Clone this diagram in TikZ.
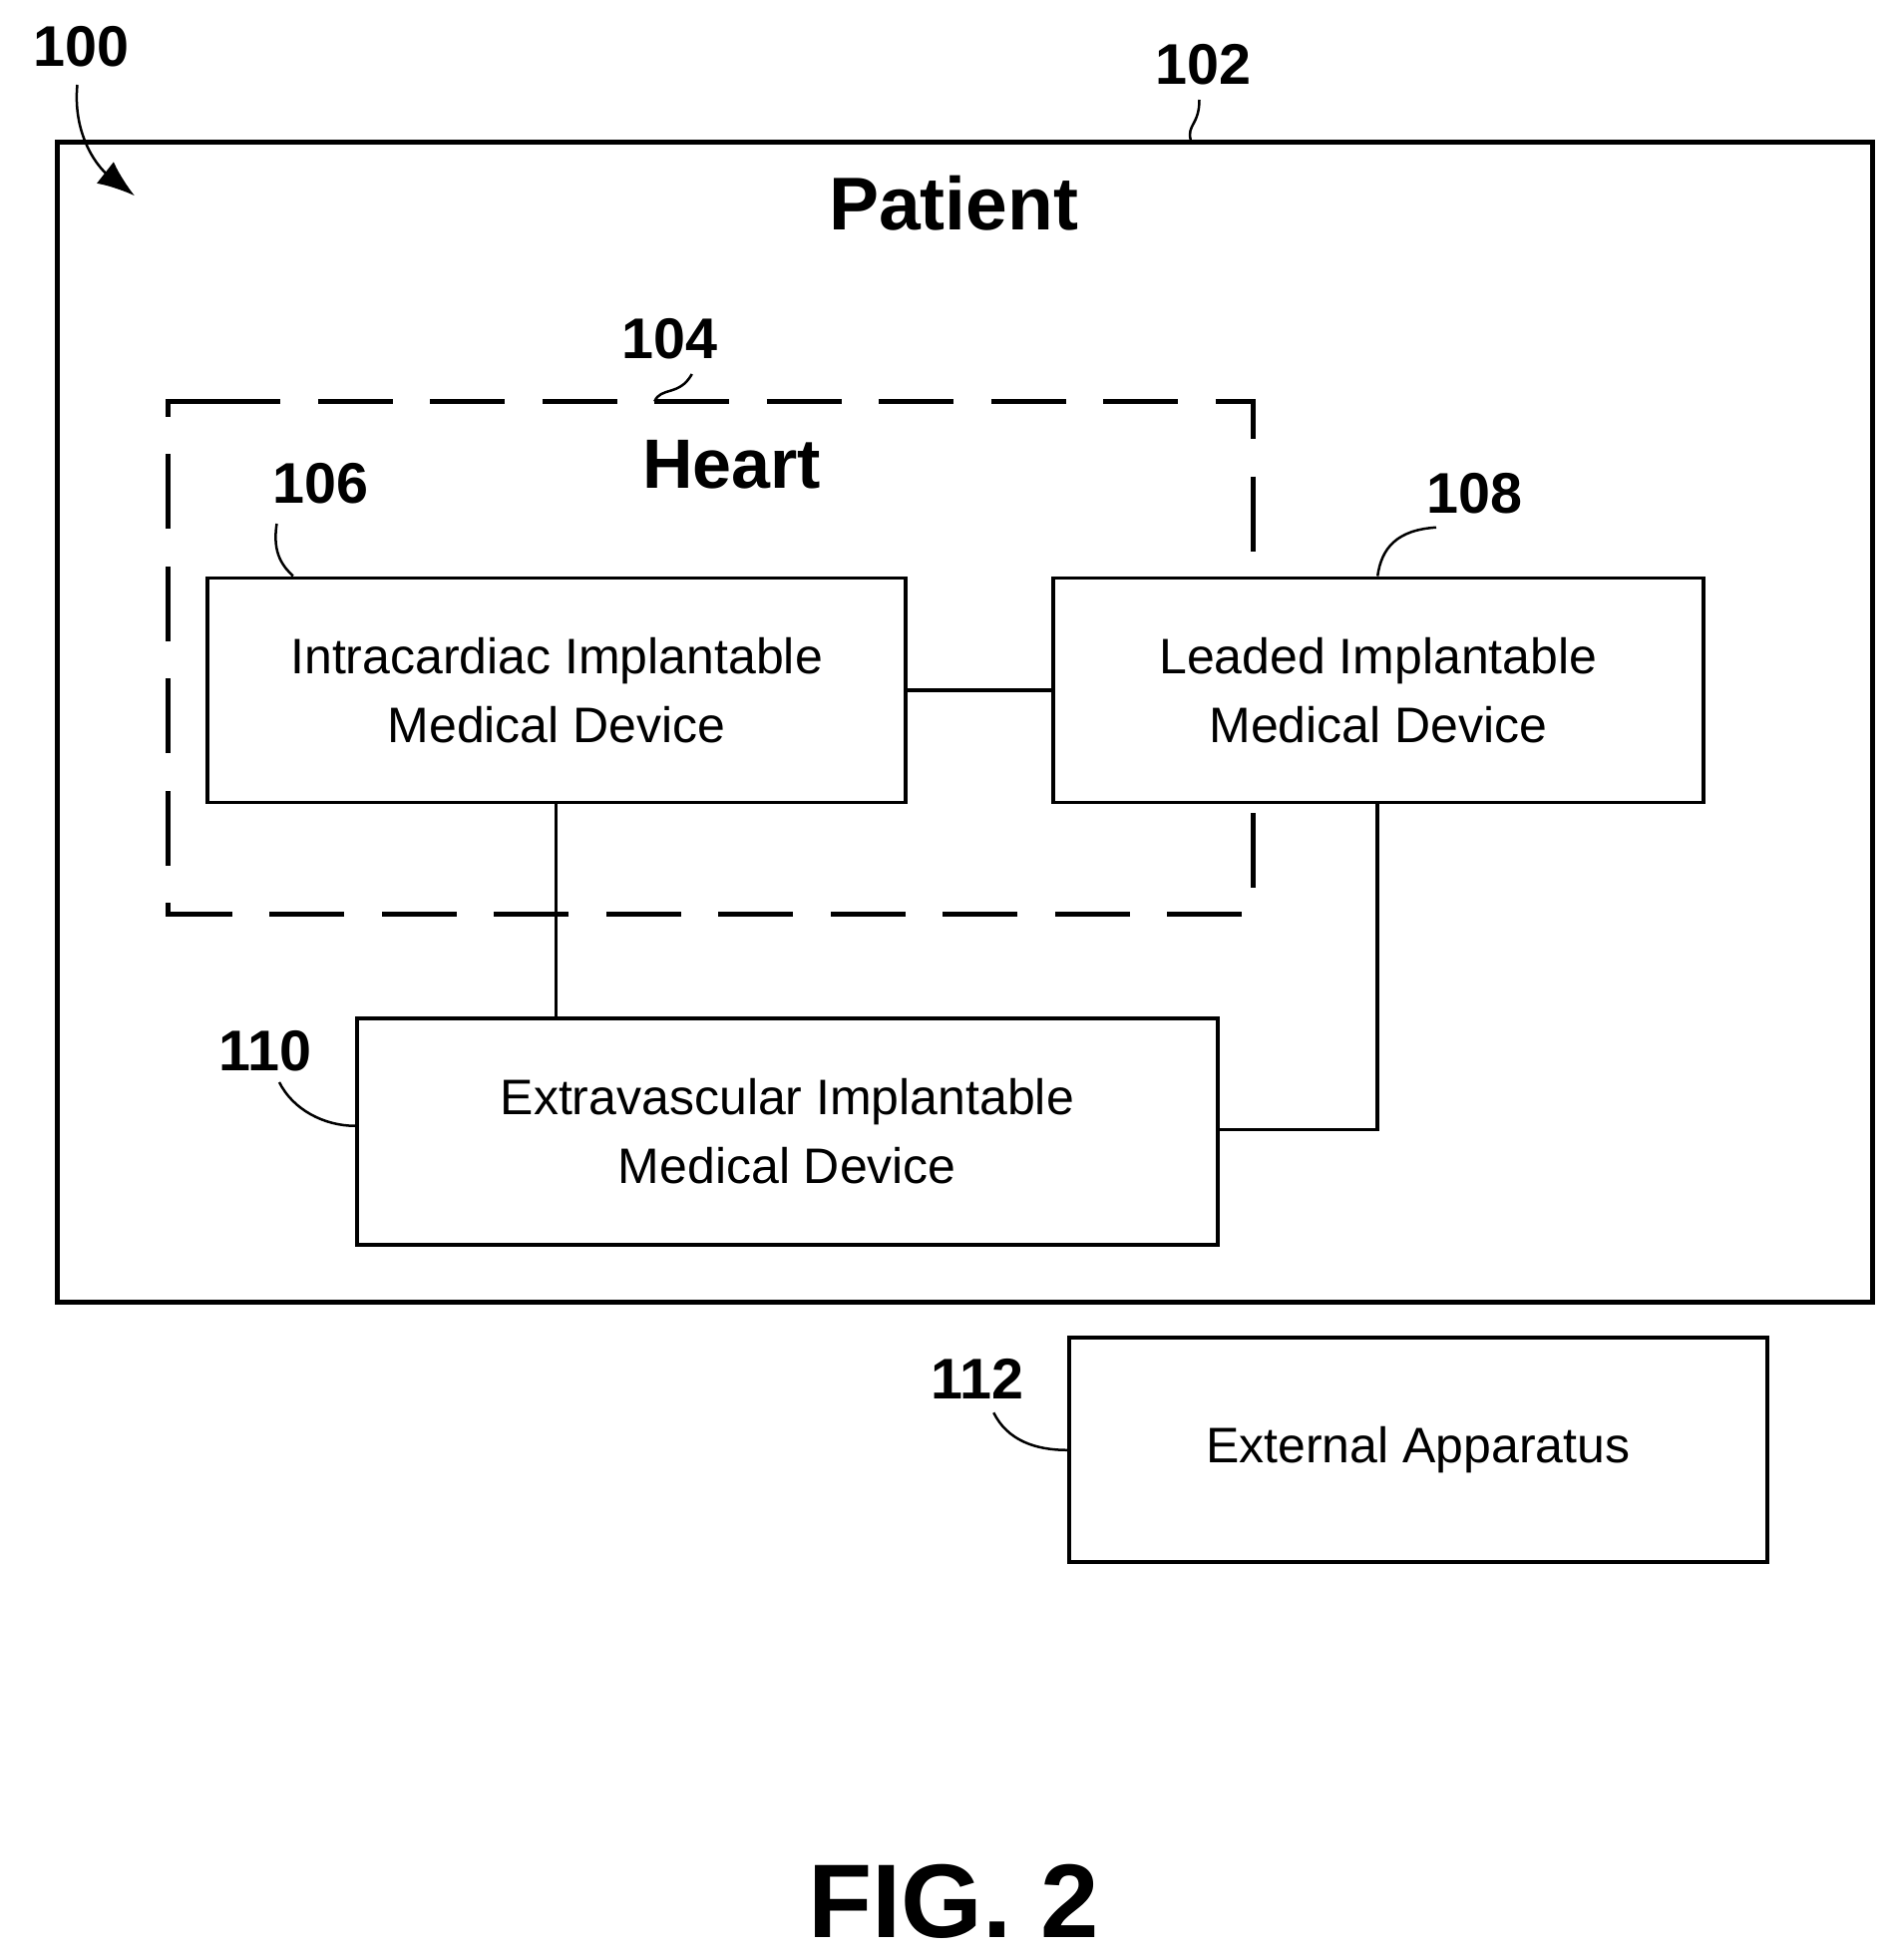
\documentclass[tikz,border=0pt]{standalone}
\usepackage{fontspec}
\setmainfont{Liberation Sans}
\usetikzlibrary{arrows.meta}
\begin{document}
\begin{tikzpicture}[x=1pt,y=-1pt,
  box/.style={draw,line width=3pt,fill=white,align=center,font=\fontsize{40}{55}\selectfont},
  num/.style={font=\bfseries\fontsize{46}{50}\selectfont},
  lead/.style={line width=2pt}]
\useasboundingbox (0,0) rectangle (1521,1572);
\node[draw,line width=4pt,minimum width=1456pt,minimum height=930pt,anchor=north west] (patient) at (44,112) {};
\node[font=\bfseries\fontsize{60}{60}\selectfont] (pt) at (765,163) {Patient};
\draw[line width=4pt,dash pattern=on 60pt off 30pt] (165,322) -- (1005,322) -- (1005,733) -- (135,733) -- (135,322) -- cycle;
\node[font=\bfseries\fontsize{56}{56}\selectfont] (heart) at (587,373) {Heart};
\node[box,minimum width=560pt,minimum height=180pt,anchor=north west] (a) at (165,462) {Intracardiac Implantable\\Medical Device};
\node[box,minimum width=522pt,minimum height=180pt,anchor=north west] (b) at (843,462) {Leaded Implantable\\Medical Device};
\node[box,minimum width=690pt,minimum height=182pt,anchor=north west] (c) at (285,815) {Extravascular Implantable\\Medical Device};
\node[box,minimum width=560pt,minimum height=180pt,anchor=north west] (d) at (856,1071) {External Apparatus};
\draw[line width=3pt] (a.east) -- (b.west);
\draw[line width=3pt] (a.south -| 446,0) -- (c.north -| 446,0);
\draw[line width=3pt] (b.south -| 1105,0) -- (1105,906) -- (c.east |- 0,906);
\node[num] (n100) at (65,37) {100};
\node[num] (n102) at (965,52) {102};
\node[num] (n104) at (537,272) {104};
\node[num] (n106) at (257,388) {106};
\node[num] (n108) at (1183,396) {108};
\node[num] (n110) at (213,843) {110};
\node[num] (n112) at (784,1106) {112};
\node[font=\bfseries\fontsize{84}{84}\selectfont] (fig) at (765,1525) {FIG. 2};
\coordinate (t100) at (108,157);
\draw[lead,-{Latex[length=30pt,width=22pt]}] (62,68) .. controls (58,110) and (80,135) .. (t100);
\draw[lead] (962,80) .. controls (962,100) and (952,100) .. (955,112);
\draw[lead] (555,300) .. controls (545,318) and (530,310) .. (525,322);
\draw[lead] (222,420) .. controls (218,445) and (228,455) .. (235,462);
\draw[lead] (1152,423) .. controls (1120,425) and (1108,440) .. (1105,462);
\draw[lead] (224,868) .. controls (235,890) and (260,903) .. (285,903);
\draw[lead] (797,1133) .. controls (808,1155) and (830,1163) .. (856,1163);
\end{tikzpicture}
\end{document}
